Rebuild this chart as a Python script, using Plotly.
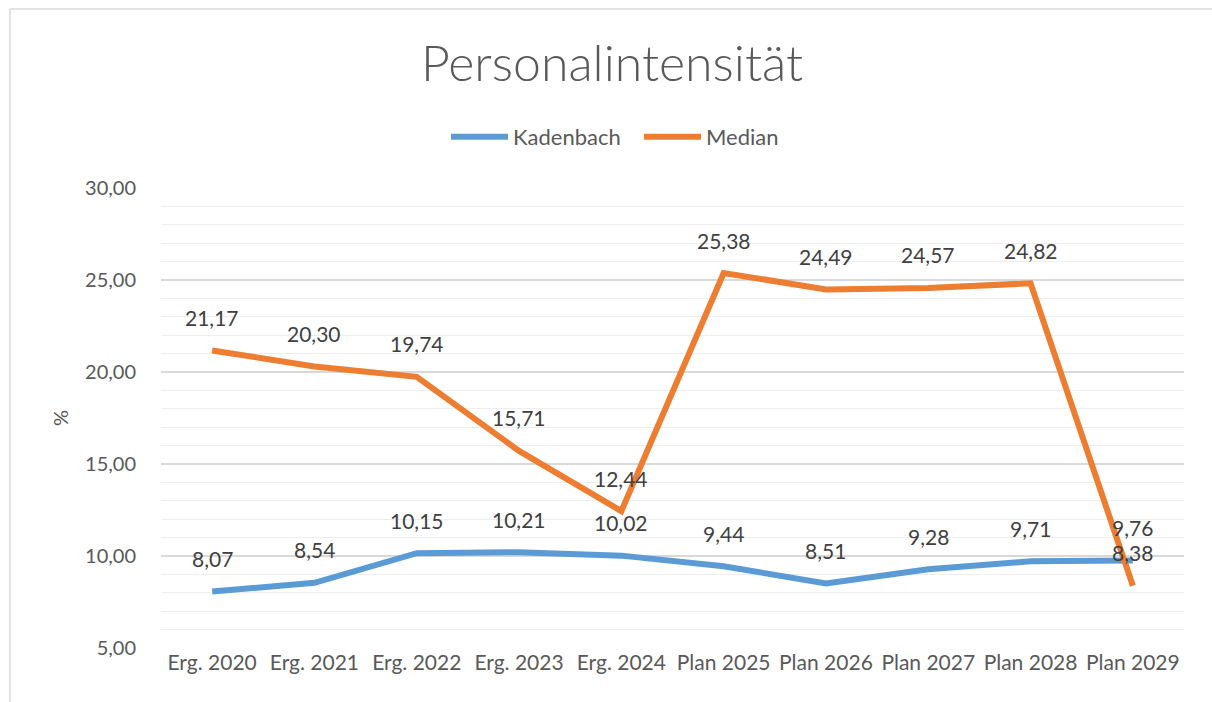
import plotly.graph_objects as go

categories = ["Erg. 2020", "Erg. 2021", "Erg. 2022", "Erg. 2023", "Erg. 2024",
              "Plan 2025", "Plan 2026", "Plan 2027", "Plan 2028", "Plan 2029"]
kadenbach = [8.07, 8.54, 10.15, 10.21, 10.02, 9.44, 8.51, 9.28, 9.71, 9.76]
median = [21.17, 20.30, 19.74, 15.71, 12.44, 25.38, 24.49, 24.57, 24.82, 8.38]
y_ticks = [5, 10, 15, 20, 25, 30]
y_tick_labels = ["5,00", "10,00", "15,00", "20,00", "25,00", "30,00"]

FONT = "Lato"
GREY = "#595959"
DARK = "#404040"
BLUE = "#5B9BD5"
ORANGE = "#ED7D31"

W, H = 1212, 702
L, R, T, B = 161, 28, 188, 54
pw, ph = W - L - R, H - T - B

def px_x(p):
    return (p - L) / pw

def px_y(p):
    return (H - B - p) / ph

fig = go.Figure()
fig.add_trace(go.Scatter(x=categories, y=kadenbach, name="Kadenbach", mode="lines",
                         line=dict(color=BLUE, width=6)))
fig.add_trace(go.Scatter(x=categories, y=median, name="Median", mode="lines",
                         line=dict(color=ORANGE, width=6)))

def fmt(v):
    return f"{v:.2f}".replace(".", ",")

annotations = []
for series in (kadenbach, median):
    for c, v in zip(categories, series):
        annotations.append(dict(x=c, y=v, xref="x", yref="y", text=fmt(v), showarrow=False,
                                xanchor="center", yanchor="middle",
                                yshift=33, font=dict(family=FONT, size=21, color=DARK)))

annotations.append(dict(x=px_x(60), y=px_y(418), xref="paper", yref="paper", text="%",
                        xanchor="center", yanchor="middle",
                        textangle=-90, showarrow=False, font=dict(family=FONT, size=20, color=GREY)))

shapes = [
    dict(type="line", xref="paper", yref="paper", x0=px_x(10), x1=px_x(10), y0=px_y(720), y1=px_y(9),
         line=dict(color="#d9d9d9", width=1.5)),
    dict(type="line", xref="paper", yref="paper", x0=px_x(10), x1=px_x(1230), y0=px_y(9), y1=px_y(9),
         line=dict(color="#d9d9d9", width=1.5)),
]

fig.update_layout(
    width=W, height=H,
    margin=dict(l=L, r=R, t=T, b=B),
    paper_bgcolor="white", plot_bgcolor="white",
    title=dict(text="Personalintensität", x=612 / W, xanchor="center", xref="container",
               y=1 - 63 / H, yanchor="middle",
               font=dict(family=FONT, size=50, color=GREY, weight=300)),
    legend=dict(orientation="h", x=px_x(446), xanchor="left", y=px_y(137), yanchor="middle",
                font=dict(family=FONT, size=22, color=GREY), itemwidth=57,
                entrywidth=121, entrywidthmode="pixels"),
    xaxis=dict(type="category", range=[-0.5, 9.5], showgrid=False, showline=False,
               ticks="", tickfont=dict(family=FONT, size=21, color=GREY)),
    yaxis=dict(range=[5, 30], tickvals=y_ticks, ticktext=y_tick_labels,
               showgrid=True, gridcolor="#d9d9d9", gridwidth=1.5, zeroline=False,
               ticks="", ticklabelstandoff=24,
               tickfont=dict(family=FONT, size=20, color=GREY),
               minor=dict(dtick=1, showgrid=True, gridcolor="#eeeeee", gridwidth=1.2)),
    annotations=annotations,
    shapes=shapes,
    showlegend=True,
)

fig.write_html("out.html", config={"displayModeBar": False},
               post_script="document.body.style.margin='0px';")
